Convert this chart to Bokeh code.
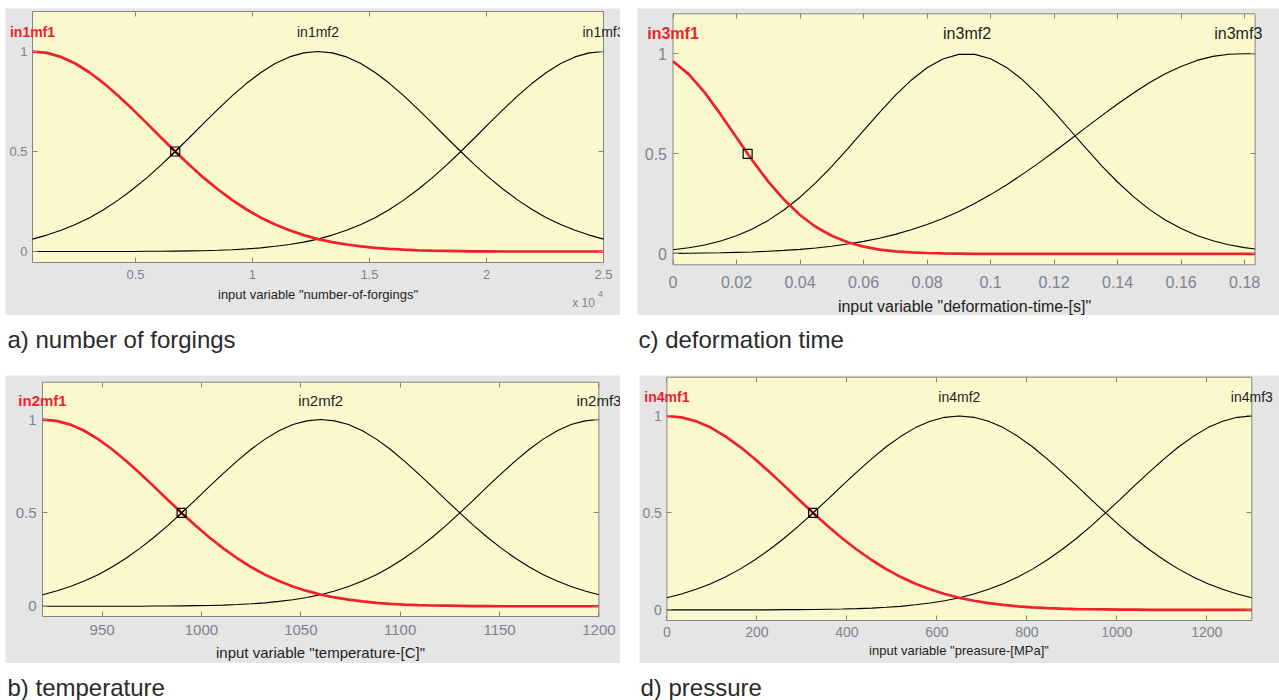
from bokeh.plotting import figure
from bokeh.models import Range1d, FixedTicker, LinearAxis, Spacer
from bokeh.layouts import column, row
from bokeh.core.properties import value
from bokeh.embed import file_html
from bokeh.resources import INLINE

# ---------------- data ----------------
# a) number of forgings
forgings_x = [600, 1210, 1820, 2430, 3040, 3650, 4260, 4870, 5480, 6090, 6700,
              7310, 7920, 8530, 9140, 9750, 10360, 10970, 11580, 12190, 12800,
              13410, 14020, 14630, 15240, 15850, 16460, 17070, 17680, 18290, 18900,
              19510, 20120, 20730, 21340, 21950, 22560, 23170, 23780, 24390, 25000]
forgings_mf1 = [1.000, 0.993, 0.973, 0.940, 0.895, 0.841, 0.779, 0.712, 0.642, 0.570, 0.500,
                0.432, 0.368, 0.310, 0.257, 0.210, 0.169, 0.135, 0.106, 0.082, 0.062,
                0.047, 0.035, 0.026, 0.018, 0.013, 0.009, 0.006, 0.004, 0.003, 0.002,
                0.001, 0.001, 0.000, 0.000, 0.000, 0.000, 0.000, 0.000, 0.000, 0.000]
forgings_mf2 = [0.062, 0.082, 0.106, 0.135, 0.169, 0.210, 0.257, 0.310, 0.368, 0.432, 0.500,
                0.570, 0.642, 0.712, 0.779, 0.841, 0.895, 0.940, 0.973, 0.993, 1.000,
                0.993, 0.973, 0.940, 0.895, 0.841, 0.779, 0.712, 0.642, 0.570, 0.500,
                0.432, 0.368, 0.310, 0.257, 0.210, 0.169, 0.135, 0.106, 0.082, 0.062]
forgings_mf3 = [0.000, 0.000, 0.000, 0.000, 0.000, 0.000, 0.000, 0.000, 0.001, 0.001, 0.002,
                0.003, 0.004, 0.006, 0.009, 0.013, 0.018, 0.026, 0.035, 0.047, 0.062,
                0.082, 0.106, 0.135, 0.169, 0.210, 0.257, 0.310, 0.368, 0.432, 0.500,
                0.570, 0.642, 0.712, 0.779, 0.841, 0.895, 0.940, 0.973, 0.993, 1.000]
forgings_names = ["in1mf1", "in1mf2", "in1mf3"]
forgings_peaks = [600, 12800, 25000]
forgings_input = [6700]
forgings_xlim = [600, 25000]
forgings_ticks = [5000, 10000, 15000, 20000, 25000]
forgings_tick_labels = ["0.5", "1", "1.5", "2", "2.5"]
forgings_scale_text = ["x 10", "4"]
forgings_scale_x = [24150, 24870]
forgings_scale_y = [-0.255, -0.21]

# b) temperature
temperature_x = [920, 927, 934, 941, 948, 955, 962, 969, 976, 983, 990,
                 997, 1004, 1011, 1018, 1025, 1032, 1039, 1046, 1053, 1060,
                 1067, 1074, 1081, 1088, 1095, 1102, 1109, 1116, 1123, 1130,
                 1137, 1144, 1151, 1158, 1165, 1172, 1179, 1186, 1193, 1200]
temperature_mf1 = [1.000, 0.993, 0.973, 0.940, 0.895, 0.841, 0.779, 0.712, 0.642, 0.570, 0.500,
                   0.432, 0.368, 0.310, 0.257, 0.210, 0.169, 0.135, 0.106, 0.082, 0.062,
                   0.047, 0.035, 0.026, 0.018, 0.013, 0.009, 0.006, 0.004, 0.003, 0.002,
                   0.001, 0.001, 0.000, 0.000, 0.000, 0.000, 0.000, 0.000, 0.000, 0.000]
temperature_mf2 = [0.062, 0.082, 0.106, 0.135, 0.169, 0.210, 0.257, 0.310, 0.368, 0.432, 0.500,
                   0.570, 0.642, 0.712, 0.779, 0.841, 0.895, 0.940, 0.973, 0.993, 1.000,
                   0.993, 0.973, 0.940, 0.895, 0.841, 0.779, 0.712, 0.642, 0.570, 0.500,
                   0.432, 0.368, 0.310, 0.257, 0.210, 0.169, 0.135, 0.106, 0.082, 0.062]
temperature_mf3 = [0.000, 0.000, 0.000, 0.000, 0.000, 0.000, 0.000, 0.000, 0.001, 0.001, 0.002,
                   0.003, 0.004, 0.006, 0.009, 0.013, 0.018, 0.026, 0.035, 0.047, 0.062,
                   0.082, 0.106, 0.135, 0.169, 0.210, 0.257, 0.310, 0.368, 0.432, 0.500,
                   0.570, 0.642, 0.712, 0.779, 0.841, 0.895, 0.940, 0.973, 0.993, 1.000]
temperature_names = ["in2mf1", "in2mf2", "in2mf3"]
temperature_peaks = [920, 1060, 1200]
temperature_input = [990]
temperature_xlim = [920, 1200]
temperature_ticks = [950, 1000, 1050, 1100, 1150, 1200]
temperature_tick_labels = ["950", "1000", "1050", "1100", "1150", "1200"]

# c) deformation time
deformation_x = [0.0, 0.005, 0.01, 0.015, 0.02, 0.025, 0.03, 0.035, 0.04, 0.045,
                 0.05, 0.055, 0.06, 0.065, 0.07, 0.075, 0.08, 0.085, 0.09, 0.095,
                 0.1, 0.105, 0.11, 0.115, 0.12, 0.125, 0.13, 0.135, 0.14, 0.145,
                 0.15, 0.155, 0.16, 0.165, 0.17, 0.175, 0.18, 0.1833]
deformation_mf1 = [0.963, 0.897, 0.806, 0.697, 0.581, 0.467, 0.361, 0.270, 0.194, 0.134,
                   0.090, 0.058, 0.036, 0.021, 0.012, 0.007, 0.004, 0.002, 0.001, 0.000,
                   0.000, 0.000, 0.000, 0.000, 0.000, 0.000, 0.000, 0.000, 0.000, 0.000,
                   0.000, 0.000, 0.000, 0.000, 0.000, 0.000, 0.000, 0.000]
deformation_mf2 = [0.020, 0.030, 0.044, 0.064, 0.090, 0.124, 0.167, 0.220, 0.283, 0.356,
                   0.437, 0.525, 0.616, 0.706, 0.792, 0.868, 0.930, 0.974, 0.997, 0.997,
                   0.975, 0.932, 0.871, 0.795, 0.710, 0.619, 0.528, 0.440, 0.359, 0.286,
                   0.222, 0.169, 0.126, 0.091, 0.065, 0.045, 0.031, 0.024]
deformation_mf3 = [0.002, 0.003, 0.004, 0.005, 0.007, 0.009, 0.013, 0.017, 0.022, 0.029,
                   0.038, 0.049, 0.062, 0.078, 0.097, 0.120, 0.146, 0.177, 0.212, 0.252,
                   0.296, 0.344, 0.397, 0.452, 0.510, 0.570, 0.631, 0.691, 0.749, 0.804,
                   0.855, 0.900, 0.937, 0.967, 0.987, 0.998, 1.000, 1.000]
deformation_names = ["in3mf1", "in3mf2", "in3mf3"]
deformation_peaks = [0.0, 0.0926, 0.178]
deformation_input = [0.0235]
deformation_xlim = [0.0, 0.1833]
deformation_ticks = [0.0, 0.02, 0.04, 0.06, 0.08, 0.1, 0.12, 0.14, 0.16, 0.18]
deformation_tick_labels = ["0", "0.02", "0.04", "0.06", "0.08", "0.1", "0.12", "0.14", "0.16", "0.18"]

# d) pressure
pressure_x = [0, 32.5, 65, 97.5, 130, 162.5, 195, 227.5, 260, 292.5, 325,
              357.5, 390, 422.5, 455, 487.5, 520, 552.5, 585, 617.5, 650,
              682.5, 715, 747.5, 780, 812.5, 845, 877.5, 910, 942.5, 975,
              1007.5, 1040, 1072.5, 1105, 1137.5, 1170, 1202.5, 1235, 1267.5, 1300]
pressure_mf1 = [1.000, 0.993, 0.973, 0.940, 0.895, 0.841, 0.779, 0.712, 0.642, 0.570, 0.500,
                0.432, 0.368, 0.310, 0.257, 0.210, 0.169, 0.135, 0.106, 0.082, 0.062,
                0.047, 0.035, 0.026, 0.018, 0.013, 0.009, 0.006, 0.004, 0.003, 0.002,
                0.001, 0.001, 0.000, 0.000, 0.000, 0.000, 0.000, 0.000, 0.000, 0.000]
pressure_mf2 = [0.062, 0.082, 0.106, 0.135, 0.169, 0.210, 0.257, 0.310, 0.368, 0.432, 0.500,
                0.570, 0.642, 0.712, 0.779, 0.841, 0.895, 0.940, 0.973, 0.993, 1.000,
                0.993, 0.973, 0.940, 0.895, 0.841, 0.779, 0.712, 0.642, 0.570, 0.500,
                0.432, 0.368, 0.310, 0.257, 0.210, 0.169, 0.135, 0.106, 0.082, 0.062]
pressure_mf3 = [0.000, 0.000, 0.000, 0.000, 0.000, 0.000, 0.000, 0.000, 0.001, 0.001, 0.002,
                0.003, 0.004, 0.006, 0.009, 0.013, 0.018, 0.026, 0.035, 0.047, 0.062,
                0.082, 0.106, 0.135, 0.169, 0.210, 0.257, 0.310, 0.368, 0.432, 0.500,
                0.570, 0.642, 0.712, 0.779, 0.841, 0.895, 0.940, 0.973, 0.993, 1.000]
pressure_names = ["in4mf1", "in4mf2", "in4mf3"]
pressure_peaks = [0, 650, 1300]
pressure_input = [325]
pressure_xlim = [0, 1300]
pressure_ticks = [0, 200, 400, 600, 800, 1000, 1200]
pressure_tick_labels = ["0", "200", "400", "600", "800", "1000", "1200"]

ylim = [-0.055, 1.2]
y_ticks = [0, 0.5, 1]
y_tick_labels = ["0", "0.5", "1"]
input_level = [0.5]
label_level = 1.1

captions = ["a) number of forgings", "b) temperature", "c) deformation time", "d) pressure"]

# ---------------- styling ----------------
FONT = "Liberation Sans"
GRAY_BG = "#e5e5e5"
YELLOW = "#faf8cd"
FRAME = "#858585"
TICK_TXT = "#7c838d"
RED = "#f0212b"
DARK = "#1e1e1e"


def canvas_ranges(w, h, box, xlim_, ylim_):
    """Extend the axes limits so that the yellow axes box lands on `box` (px)."""
    l, r, t, b = box
    sx = (xlim_[1] - xlim_[0]) / (r - l)
    sy = (ylim_[1] - ylim_[0]) / (b - t)
    return ((xlim_[0] - l * sx, xlim_[1] + (w - r) * sx),
            (ylim_[0] - (h - b) * sy, ylim_[1] + t * sy))


def make_panel(w, h, box, xlim_, x, curves, names, peaks, inp, marker,
               xticks, xtlabels, xlabel, fs, xstand, astand, ystand):
    xr, yr = canvas_ranges(w, h, box, xlim_, ylim)
    p = figure(width=w, height=h, x_range=Range1d(*xr), y_range=Range1d(*yr),
               output_backend="svg", toolbar_location=None, title=None,
               x_axis_type=None, y_axis_type=None, min_border=0)
    p.background_fill_color = GRAY_BG
    p.border_fill_color = GRAY_BG
    p.outline_line_color = None
    p.grid.visible = False

    # the yellow axes box
    p.quad(left=[xlim_[0]], right=[xlim_[1]], bottom=[ylim[0]], top=[ylim[1]],
           fill_color=YELLOW, line_color=FRAME, line_width=1)

    common = dict(major_label_text_font=FONT, major_label_text_color=TICK_TXT,
                  major_label_text_font_size=f"{fs['tick']}px",
                  major_tick_in=5, major_tick_out=0, major_tick_line_color=FRAME,
                  minor_tick_line_color=None, axis_line_color=None)

    xa = LinearAxis(ticker=FixedTicker(ticks=xticks),
                    major_label_overrides={t: l for t, l in zip(xticks, xtlabels)},
                    fixed_location=ylim[0], bounds=tuple(xlim_),
                    major_label_standoff=xstand,
                    axis_label=xlabel, axis_label_text_font=FONT,
                    axis_label_text_font_style="normal",
                    axis_label_text_font_size=f"{fs['axis']}px",
                    axis_label_text_color=DARK, axis_label_standoff=astand, **common)
    p.add_layout(xa, "below")
    ya = LinearAxis(ticker=FixedTicker(ticks=y_ticks),
                    major_label_overrides={t: l for t, l in zip(y_ticks, y_tick_labels)},
                    fixed_location=xlim_[0], bounds=tuple(ylim),
                    major_label_standoff=ystand, **common)
    p.add_layout(ya, "left")

    # mirrored tick marks on the top and right edges
    mirror = dict(major_label_text_font_size="0px", major_label_standoff=0,
                  major_tick_in=5, major_tick_out=0, major_tick_line_color=FRAME,
                  minor_tick_line_color=None, axis_line_color=None)
    p.add_layout(LinearAxis(ticker=FixedTicker(ticks=xticks), fixed_location=ylim[1],
                            bounds=tuple(xlim_), **mirror), "above")
    p.add_layout(LinearAxis(ticker=FixedTicker(ticks=y_ticks), fixed_location=xlim_[1],
                            bounds=tuple(ylim), **mirror), "right")

    p.line(x, curves[1], line_color="black", line_width=1.1)
    p.line(x, curves[2], line_color="black", line_width=1.1)
    p.line(x, curves[0], line_color=RED, line_width=2.7)
    p.scatter(inp, input_level, marker=marker, size=9, fill_alpha=0,
              line_color="black", line_width=1.2)

    p.text(x=peaks[1:], y=[label_level] * 2, text=names[1:], text_font=value(FONT),
           text_font_size=f"{fs['mf']}px", text_color=DARK,
           text_align="center", text_baseline="middle")
    p.text(x=peaks[:1], y=[label_level], text=names[:1], text_font=value(FONT),
           text_font_size=f"{fs['mf']}px", text_font_style="bold", text_color=RED,
           text_align="center", text_baseline="middle")
    return p


def make_caption(w, h, text, x0, middle_from_top):
    c = figure(width=w, height=h, x_range=Range1d(0, w), y_range=Range1d(0, h),
               output_backend="svg", toolbar_location=None, title=None, min_border=0,
               x_axis_type=None, y_axis_type=None)
    c.grid.visible = False
    c.outline_line_color = None
    c.background_fill_color = "white"
    c.border_fill_color = "white"
    c.text(x=[x0], y=[h - middle_from_top], text=[text], text_font=value(FONT),
           text_font_size="24px", text_color="#2a2a2a",
           text_baseline="middle", text_align="left")
    return c


pa = make_panel(615, 307, (27, 598, 3, 254), forgings_xlim, forgings_x,
                [forgings_mf1, forgings_mf2, forgings_mf3], forgings_names, forgings_peaks,
                forgings_input, "square_x", forgings_ticks, forgings_tick_labels,
                'input variable "number-of-forgings"', {"tick": 13, "axis": 13, "mf": 14},
                7, 5, 5)
pa.text(x=forgings_scale_x[:1], y=forgings_scale_y[:1], text=forgings_scale_text[:1],
        text_font=value(FONT), text_font_size="12px", text_color=TICK_TXT,
        text_align="center", text_baseline="middle")
pa.text(x=forgings_scale_x[1:], y=forgings_scale_y[1:], text=forgings_scale_text[1:],
        text_font=value(FONT), text_font_size="9px", text_color=TICK_TXT,
        text_align="center", text_baseline="middle")

pc = make_panel(642, 307, (35.5, 617.6, 5.3, 256.3), deformation_xlim, deformation_x,
                [deformation_mf1, deformation_mf2, deformation_mf3], deformation_names,
                deformation_peaks, deformation_input, "square", deformation_ticks,
                deformation_tick_labels, 'input variable "deformation-time-[s]"',
                {"tick": 16, "axis": 16, "mf": 16}, 11, 7, 6)

pb = make_panel(615, 288, (37, 593.4, 6.7, 241), temperature_xlim, temperature_x,
                [temperature_mf1, temperature_mf2, temperature_mf3], temperature_names,
                temperature_peaks, temperature_input, "square_x", temperature_ticks,
                temperature_tick_labels, 'input variable "temperature-[C]"',
                {"tick": 15, "axis": 15, "mf": 15}, 8, 6, 6)

pd = make_panel(640, 288, (27.4, 612.3, 1.7, 245), pressure_xlim, pressure_x,
                [pressure_mf1, pressure_mf2, pressure_mf3], pressure_names,
                pressure_peaks, pressure_input, "square_x", pressure_ticks,
                pressure_tick_labels, 'input variable "preasure-[MPa]"',
                {"tick": 14, "axis": 13, "mf": 14}, 6, 3, 5)

cap_a = make_caption(637, 60, captions[0], 7, 24)
cap_c = make_caption(642, 60, captions[2], 1, 24)
cap_b = make_caption(639, 37, captions[1], 7, 24)
cap_d = make_caption(640, 37, captions[3], 1, 24)

layout = column(
    Spacer(width=1279, height=8),
    row(Spacer(width=5, height=307), pa, Spacer(width=17, height=307), pc),
    row(cap_a, cap_c),
    row(Spacer(width=5, height=288), pb, Spacer(width=19, height=288), pd),
    row(cap_b, cap_d),
)

open("out.html", "w").write(file_html(layout, INLINE))
